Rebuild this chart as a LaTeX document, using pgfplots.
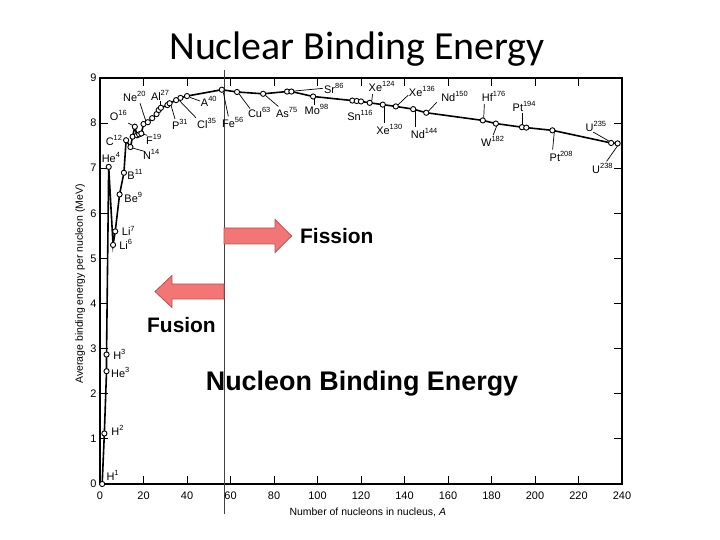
\documentclass[border=0pt]{standalone}
\usepackage{fontspec}
\setmainfont{Liberation Sans}
\newfontfamily\titlefont{Carlito}
\usepackage{pgfplots}
\usepackage{pgfplotstable}
\pgfplotsset{compat=1.18}
\definecolor{arrowfill}{RGB}{242,118,118}
\definecolor{arrowedge}{RGB}{190,80,80}
\newcommand{\iso}[2]{#1\raisebox{0.85ex}{\fontsize{7.5}{8}\selectfont #2}}
\tikzset{
  lab/.style={font=\fontsize{11}{12}\selectfont, inner sep=0pt, anchor=center},
  lead/.style={line width=0.7bp, black},
}

\pgfplotstableread{
A E
1 0.00
2 1.12
3 2.50
3 2.87
4 7.03
6 5.30
7 5.60
9 6.42
11 6.90
12 7.62
14 7.47
15 7.70
16 7.92
17 7.73
18 7.75
19 7.77
20 7.98
22 8.02
24 8.11
26 8.20
27 8.29
28 8.34
31 8.40
32 8.44
35 8.51
37 8.56
40 8.60
56 8.74
63 8.69
75 8.65
86 8.70
88 8.70
98 8.59
116 8.50
118 8.49
120 8.48
124 8.45
130 8.41
136 8.37
144 8.31
150 8.23
176 8.06
182 7.99
194 7.91
196 7.90
208 7.84
235 7.56
238 7.55
}\bedata

\begin{document}
\begin{tikzpicture}
\path[use as bounding box] (0,0) rectangle (720bp,540bp);
\begin{axis}[
  scale only axis, width=522bp, height=406bp,
  at={(100bp,56bp)}, anchor=south west,
  xmin=0, xmax=240, ymin=0, ymax=9,
  xtick={0,20,...,240}, ytick={0,1,...,9},
  tick align=inside, major tick length=8bp,
  axis line style={line width=1.2bp},
  every tick/.style={black, line width=1bp},
  ticklabel style={font=\fontsize{11}{13}\selectfont},
  /pgf/number format/assume math mode=true,
  xticklabel style={yshift=-4bp},
  xlabel={Number of nucleons in nucleus, \textit{A}},
  ylabel={Average binding energy per nucleon (MeV)},
  label style={font=\fontsize{10.5}{12}\selectfont},
  xlabel style={at={(axis description cs:0.513,-0.071)}, anchor=center},
  ylabel style={at={(axis description cs:-0.038,0.493)}, anchor=center},
  clip=false,
]
\draw[line width=0.9bp, black!75] (axis cs:57,-0.665) -- (axis cs:57,9.18);
\addplot[black, line width=1.6bp, mark=*, mark size=2.6bp,
  mark options={fill=white, line width=0.9bp, solid}] table[x=A, y=E] {\bedata};

% labels
\node[lab] at (axis cs:5.8,0.18) {\iso{H}{1}};
\node[lab] at (axis cs:8.0,1.19) {\iso{H}{2}};
\node[lab] at (axis cs:8.9,2.88) {\iso{H}{3}};
\node[lab] at (axis cs:9.3,2.48) {\iso{He}{3}};
\node[lab] at (axis cs:5.0,7.23) {\iso{He}{4}};
\node[lab] at (axis cs:13.0,5.61) {\iso{Li}{7}};
\node[lab] at (axis cs:11.8,5.31) {\iso{Li}{6}};
\node[lab] at (axis cs:15.3,6.36) {\iso{Be}{9}};
\node[lab] at (axis cs:16.1,6.86) {\iso{B}{11}};
\node[lab] at (axis cs:6.4,7.62) {\iso{C}{12}};
\node[lab] at (axis cs:23.5,7.31) {\iso{N}{14}};
\node[lab] at (axis cs:24.7,7.64) {\iso{F}{19}};
\node[lab] at (axis cs:8.4,8.18) {\iso{O}{16}};
\node[lab] at (axis cs:15.8,8.60) {\iso{Ne}{20}};
\node[lab] at (axis cs:27.6,8.62) {\iso{Al}{27}};
\node[lab] at (axis cs:36.7,7.97) {\iso{P}{31}};
\node[lab] at (axis cs:49,8.00) {\iso{Cl}{35}};
\node[lab] at (axis cs:50,8.48) {\iso{A}{40}};
\node[lab] at (axis cs:61,8.02) {\iso{Fe}{56}};
\node[lab] at (axis cs:73.2,8.24) {\iso{Cu}{63}};
\node[lab] at (axis cs:85.8,8.24) {\iso{As}{75}};
\node[lab] at (axis cs:99.5,8.30) {\iso{Mo}{98}};
\node[lab] at (axis cs:107.5,8.77) {\iso{Sr}{86}};
\node[lab] at (axis cs:119.5,8.18) {\iso{Sn}{116}};
\node[lab] at (axis cs:129.5,8.81) {\iso{Xe}{124}};
\node[lab] at (axis cs:148,8.71) {\iso{Xe}{136}};
\node[lab] at (axis cs:133,7.85) {\iso{Xe}{130}};
\node[lab] at (axis cs:149,7.78) {\iso{Nd}{144}};
\node[lab] at (axis cs:163,8.59) {\iso{Nd}{150}};
\node[lab] at (axis cs:181,8.59) {\iso{Hf}{176}};
\node[lab] at (axis cs:180.5,7.59) {\iso{W}{182}};
\node[lab] at (axis cs:195,8.37) {\iso{Pt}{194}};
\node[lab] at (axis cs:212,7.26) {\iso{Pt}{208}};
\node[lab] at (axis cs:228,7.93) {\iso{U}{235}};
\node[lab] at (axis cs:231,7.00) {\iso{U}{238}};

% leader lines
\draw[lead] (axis cs:18.4,8.44) -- (axis cs:21.1,8.04);
\draw[lead] (axis cs:27.6,8.49) -- (axis cs:27.6,8.33);
\draw[lead] (axis cs:13,8.00) -- (axis cs:16.6,7.91);
\draw[lead] (axis cs:20.7,7.37) -- (axis cs:14.1,7.46);
\draw[lead] (axis cs:21.7,7.73) -- (axis cs:19.6,7.76);
\draw[lead] (axis cs:34.5,8.09) -- (axis cs:32.5,8.42);
\draw[lead] (axis cs:44.1,8.12) -- (axis cs:36.5,8.50);
\draw[lead] (axis cs:46,8.49) -- (axis cs:41.4,8.57);
\draw[lead] (axis cs:59,8.15) -- (axis cs:56.7,8.68);
\draw[lead] (axis cs:69,8.32) -- (axis cs:63.9,8.65);
\draw[lead] (axis cs:82,8.37) -- (axis cs:75.9,8.62);
\draw[lead] (axis cs:98.5,8.40) -- (axis cs:98.5,8.56);
\draw[lead] (axis cs:102.4,8.77) -- (axis cs:88.9,8.71);
\draw[lead] (axis cs:125.3,8.64) -- (axis cs:124.9,8.47);
\draw[lead] (axis cs:141.7,8.62) -- (axis cs:136.7,8.39);
\draw[lead] (axis cs:130.6,8.00) -- (axis cs:130.6,8.38);
\draw[lead] (axis cs:144.8,7.92) -- (axis cs:144.8,8.29);
\draw[lead] (axis cs:154.8,8.46) -- (axis cs:150.9,8.26);
\draw[lead] (axis cs:176.7,8.42) -- (axis cs:176.4,8.08);
\draw[lead] (axis cs:180.8,7.74) -- (axis cs:182.7,7.97);
\draw[lead] (axis cs:194.3,8.22) -- (axis cs:194.3,7.93);
\draw[lead] (axis cs:208.1,7.41) -- (axis cs:208.9,7.82);
\draw[lead] (axis cs:226.8,7.80) -- (axis cs:234.8,7.58);
\draw[lead] (axis cs:232.9,7.15) -- (axis cs:238.3,7.52);
\end{axis}

% title
\node[font=\titlefont\fontsize{40}{48}\selectfont, anchor=base] at (357bp,480bp) {Nuclear Binding Energy};

% arrows
\filldraw[fill=arrowfill, draw=arrowedge, line width=0.8bp]
  (224bp,296bp) -- (275bp,296bp) -- (275bp,287.5bp) -- (291.7bp,304bp) -- (275bp,320.5bp) -- (275bp,312bp) -- (224bp,312bp) -- cycle;
\filldraw[fill=arrowfill, draw=arrowedge, line width=0.8bp]
  (224bp,241bp) -- (172bp,241bp) -- (172bp,232.5bp) -- (155bp,248.5bp) -- (172bp,264.5bp) -- (172bp,256bp) -- (224bp,256bp) -- cycle;
\node[font=\bfseries\fontsize{21}{24}\selectfont, anchor=west, inner sep=0pt] at (300bp,304bp) {Fission};
\node[font=\bfseries\fontsize{21}{24}\selectfont, anchor=west, inner sep=0pt] at (147bp,215bp) {Fusion};
\node[font=\bfseries\fontsize{27}{30}\selectfont, anchor=center, inner sep=0pt] at (362bp,156bp) {Nucleon Binding Energy};
\end{tikzpicture}
\end{document}
